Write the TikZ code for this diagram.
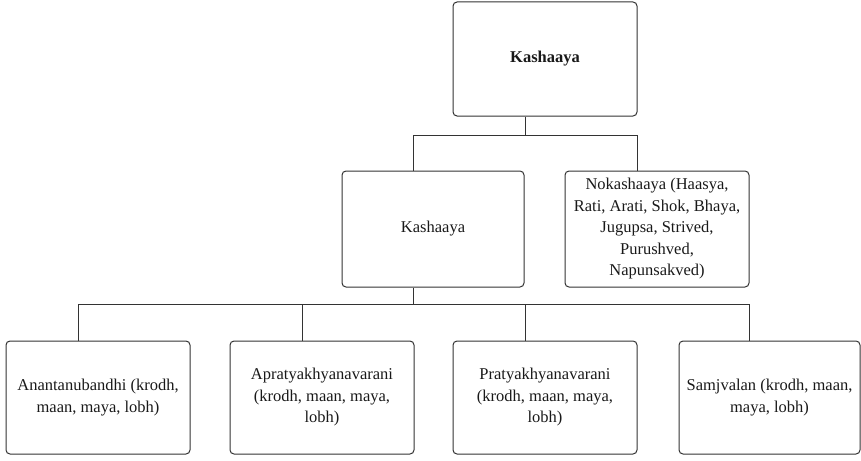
\documentclass[tikz,border=0pt]{standalone}
\usepackage{fontspec}
\setmainfont{Liberation Serif}
\begin{document}
\begin{tikzpicture}[x=1pt,y=-1pt,
  box/.style={draw=black!80, line width=1pt, rounded corners=4pt, align=center,
    inner sep=1pt, font=\fontsize{16.5}{21.5}\selectfont, text=black!90},
  conn/.style={draw=black!80, line width=1pt}]
\useasboundingbox (0,0) rectangle (861,460);
\node[box, minimum width=184pt, minimum height=114pt] (top) at (545,59) {\textbf{Kashaaya}};
\node[box, minimum width=182pt, minimum height=116pt] (K) at (433,229) {Kashaaya};
\node[box, minimum width=184pt, minimum height=116pt] (N) at (657,229)
  {Nokashaaya (Haasya,\\Rati, Arati, Shok, Bhaya,\\Jugupsa, Strived,\\Purushved,\\Napunsakved)};
\node[box, minimum width=184pt, minimum height=113pt] (B1) at (98,397.5)
  {Anantanubandhi (krodh,\\maan, maya, lobh)};
\node[box, minimum width=184pt, minimum height=113pt] (B2) at (322,397.5)
  {Apratyakhyanavarani\\(krodh, maan, maya,\\lobh)};
\node[box, minimum width=184pt, minimum height=113pt] (B3) at (545,397.5)
  {Pratyakhyanavarani\\(krodh, maan, maya,\\lobh)};
\node[box, minimum width=181pt, minimum height=113pt] (B4) at (769.5,397.5)
  {Samjvalan (krodh, maan,\\maya, lobh)};
\coordinate (bus1) at (0,135);
\coordinate (bus2) at (0,304);
\coordinate (ts) at ([xshift=-20pt]top.south);
\coordinate (kn) at ([xshift=-20pt]K.north);
\coordinate (nn) at ([xshift=-20pt]N.north);
\coordinate (ks) at ([xshift=-20pt]K.south);
\coordinate (c1) at ([xshift=-20pt]B1.north);
\coordinate (c2) at ([xshift=-20pt]B2.north);
\coordinate (c3) at ([xshift=-20pt]B3.north);
\coordinate (c4) at ([xshift=-20pt]B4.north);
\draw[conn] (ts) -- (ts |- bus1);
\draw[conn] (kn) |- (nn |- bus1) -- (nn);
\draw[conn] (ks) -- (ks |- bus2);
\draw[conn] (c1) |- (c4 |- bus2) -- (c4);
\draw[conn] (c2) -- (c2 |- bus2);
\draw[conn] (c3) -- (c3 |- bus2);
\end{tikzpicture}
\end{document}
